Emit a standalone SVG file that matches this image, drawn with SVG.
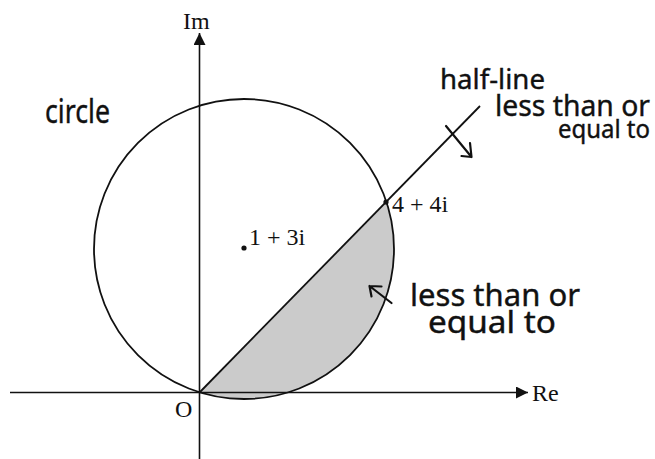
<svg xmlns="http://www.w3.org/2000/svg" width="655" height="459" viewBox="0 0 655 459">
  <style>
    .ln { stroke: #111; stroke-width: 1.8; fill: none; }
    .ax { stroke: #111; stroke-width: 1.6; fill: none; }
    .math { font-family: "Liberation Serif", "Times New Roman", serif; font-size: 24px; fill: #111; }
    .hand { font-family: "Noto Sans", "DejaVu Sans", sans-serif; fill: #111; stroke: #111; stroke-width: 0.4; }
    .pen { stroke: #111; stroke-width: 2.2; fill: none; stroke-linecap: round; stroke-linejoin: round; }
  </style>
  <defs>
    <marker id="ah" viewBox="0 0 12 12" refX="12" refY="6" markerWidth="12" markerHeight="12" markerUnits="userSpaceOnUse" orient="auto">
      <path d="M0,0 L12,6 L0,12 Z" fill="#111"/>
    </marker>
  </defs>
  <rect width="655" height="459" fill="#fff"/>

  <g id="region">
    <path d="M199.5,392.5 L386,202 A150,150 0 0 1 199.5,392.5 Z" fill="#cbcbcb" stroke="none"/>
  </g>

  <g id="circle">
    <circle class="ln" cx="244" cy="249" r="150"/>
  </g>

  <g id="connectors">
    <line class="ax" x1="10" y1="392.5" x2="528" y2="392.5" marker-end="url(#ah)"/>
    <line class="ax" x1="199.5" y1="459" x2="199.5" y2="33" marker-end="url(#ah)"/>
    <line class="ln" x1="199.5" y1="392.5" x2="480" y2="106"/>
    <path class="pen" d="M446,126 L471.5,157 M470,143 L471.5,157 L461.5,156"/>
    <path class="pen" d="M391.5,303 L369.5,286 M381.5,286.5 L369.5,286 L371.5,296.5"/>
  </g>

  <g id="origin">
    <text class="math" x="175" y="417">O</text>
  </g>
  <g id="axis-im">
    <text class="math" x="183" y="29">Im</text>
  </g>
  <g id="axis-re">
    <text class="math" x="532" y="401">Re</text>
  </g>
  <g id="point-centre">
    <circle cx="244" cy="248" r="2.6" fill="#111"/>
    <text class="math" x="249" y="245" xml:space="preserve">1 + 3i</text>
  </g>
  <g id="point-4-4i">
    <circle cx="386" cy="202" r="2.6" fill="#111"/>
    <text class="math" x="392" y="212" xml:space="preserve">4 + 4i</text>
  </g>

  <g id="label-circle">
    <text class="hand" x="45" y="123" font-size="32" textLength="65" lengthAdjust="spacingAndGlyphs">circle</text>
  </g>
  <g id="label-half-line">
    <text class="hand" x="440" y="89" font-size="28" textLength="105" lengthAdjust="spacingAndGlyphs">half-line</text>
  </g>
  <g id="label-upper">
    <text class="hand" x="495" y="116" font-size="29" textLength="155" lengthAdjust="spacingAndGlyphs">less than or</text>
    <text class="hand" x="558" y="138" font-size="25" textLength="92" lengthAdjust="spacingAndGlyphs">equal to</text>
  </g>
  <g id="label-lower">
    <text class="hand" x="410" y="306" font-size="31" textLength="170" lengthAdjust="spacingAndGlyphs">less than or</text>
    <text class="hand" x="428" y="333" font-size="30" textLength="128" lengthAdjust="spacingAndGlyphs">equal to</text>
  </g>
</svg>
